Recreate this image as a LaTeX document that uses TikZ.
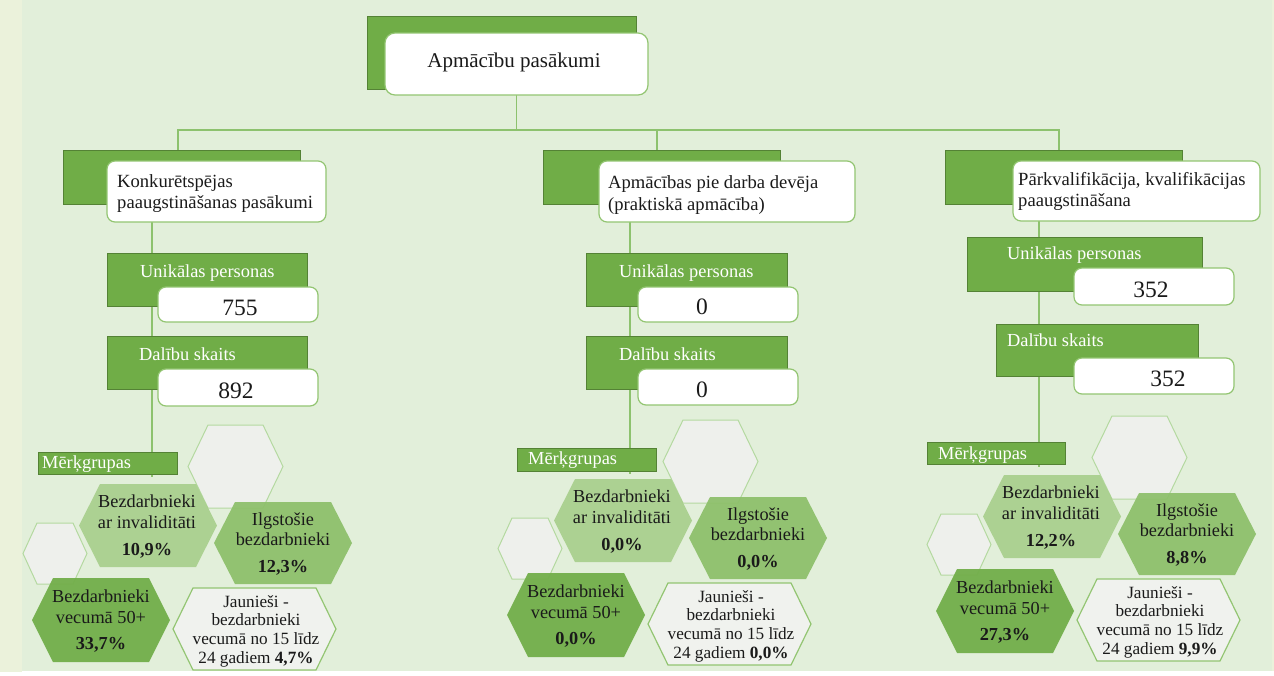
\documentclass[tikz,border=0pt]{standalone}
\usepackage{fontspec}
\setmainfont{Liberation Serif}
\newfontfamily\tnr{Liberation Serif}
\pgfdeclarelayer{back}
\pgfdeclarelayer{bg}
\pgfsetlayers{back,bg,main}
\definecolor{bgc}{HTML}{E2EFDA}
\definecolor{strip}{HTML}{EBF2DB}
\definecolor{gfill}{HTML}{70AD47}
\definecolor{gdark}{HTML}{548235}
\definecolor{wline}{HTML}{93C572}
\definecolor{cline}{HTML}{8DC26E}
\definecolor{hexa}{HTML}{A8CF8C}
\definecolor{hexb}{HTML}{8CBF69}
\definecolor{hexc}{HTML}{72AE4A}
\definecolor{hexl}{HTML}{F0F2EE}
\definecolor{hexe}{HTML}{EEF0EC}
\definecolor{hexeline}{HTML}{B4D9A0}
\definecolor{txt}{HTML}{1A1A1A}
\tikzset{
  gbox/.style={draw=gdark, fill=gfill, line width=0.8pt, inner sep=0pt, outer sep=0pt},
  wbox/.style={draw=wline, fill=white, rounded corners=8pt, line width=1.2pt, inner sep=0pt, outer sep=0pt},
  conn/.style={draw=cline, line width=1.2pt},
  ttl/.style={font=\tnr\fontsize{21}{24}\selectfont, text=txt, anchor=base, inner sep=0pt},
  hd/.style={font=\tnr\fontsize{18.6}{22}\selectfont, text=txt, anchor=base west, inner sep=0pt},
  lbl/.style={font=\tnr\fontsize{18.4}{22}\selectfont, text=white, anchor=base west, inner sep=0pt},
  num/.style={font=\tnr\fontsize{23.5}{26}\selectfont, text=txt, anchor=base, inner sep=0pt},
  htxt/.style={font=\tnr\fontsize{18.3}{20}\selectfont, text=txt, anchor=base, inner sep=0pt},
  jtxt/.style={font=\tnr\fontsize{17.2}{19}\selectfont, text=txt, anchor=base, inner sep=0pt},
  ehex/.style={fill=hexe, draw=hexeline, line width=1pt},
  hexA/.style={fill=hexa, fill opacity=0.92, draw=none},
  hexB/.style={fill=hexb, fill opacity=0.92, draw=none},
  hexC/.style={fill=hexc, fill opacity=0.95, draw=none},
  hexD/.style={fill=hexl, draw=wline, line width=1.2pt},
}
\newcommand\rbx[6]{\node[#1, minimum width={(#5-#3)*1pt}, minimum height={(#6-#4)*1pt}] (#2) at ({(#3+#5)/2},{(#4+#6)/2}) {};}
\newcommand\hexa[7]{%
  \path[#1] (#3,{(#4+#6)/2}) -- ({#3+#7},#4) -- ({#5-#7},#4) -- (#5,{(#4+#6)/2}) -- ({#5-#7},#6) -- ({#3+#7},#6) -- cycle;
  \coordinate (#2) at ({(#3+#5)/2},{(#4+#6)/2});}
\newcommand\hexgroup[6]{%
  \begin{scope}[shift={#2}]
    \hexa{ehex}{ea#1}{188}{425}{283}{508}{20}
    \hexa{ehex}{eb#1}{23}{523}{87}{584}{14}
    \hexa{hexA}{ha#1}{79}{484}{217}{567}{21}
    \hexa{hexB}{hb#1}{214}{502}{352}{584}{21}
    \hexa{hexC}{hc#1}{32}{578}{170}{662}{21}
    \hexa{hexD}{hd#1}{173}{588}{336}{670}{20}
    \node[htxt] (ta1#1) at (147,507) {Bezdarbnieki};
    \node[htxt] (ta2#1) at (147,528) {ar invaliditāti};
    \node[htxt] (ta3#1) at (147,555) {\bfseries #3};
    \node[htxt] (tb1#1) at (283,525) {Ilgstošie};
    \node[htxt] (tb2#1) at (283,545) {bezdarbnieki};
    \node[htxt] (tb3#1) at (283,572) {\bfseries #4};
    \node[htxt] (tc1#1) at (101,602) {Bezdarbnieki};
    \node[htxt] (tc2#1) at (101,623) {vecumā 50+};
    \node[htxt] (tc3#1) at (101,649) {\bfseries #5};
    \node[jtxt] (td1#1) at (256,607) {Jaunieši -};
    \node[jtxt] (td2#1) at (256,625) {bezdarbnieki};
    \node[jtxt] (td3#1) at (256,644) {vecumā no 15 līdz};
    \node[jtxt] (td4#1) at (256,663) {24 gadiem \textbf{#6}};
  \end{scope}}
\begin{document}
\begin{tikzpicture}[x=1pt,y=-1pt]
\begin{pgfonlayer}{back}
  \fill[white] (0,0) rectangle (1274,675);
  \fill[strip] (0,0) rectangle (22,672);
  \fill[bgc] (22,0) rectangle (1272,671);
  \fill[strip] (1272,0) rectangle (1274,671);
\end{pgfonlayer}
\useasboundingbox (0,0) rectangle (1274,675);

% title
\rbx{gbox}{tg}{367}{16}{636}{89}
\rbx{wbox, rounded corners=10pt}{tw}{385}{33}{648}{95}
\node[ttl] (tt) at (514,67) {Apmācību pasākumi};

% column headings
\rbx{gbox}{g1}{63}{150}{300}{204}
\rbx{wbox}{w1}{107}{161}{326}{222}
\node[hd] (h1a) at (117,187) {Konkurētspējas};
\node[hd] (h1b) at (117,208) {paaugstināšanas pasākumi};

\rbx{gbox}{g2}{543}{150}{780}{204}
\rbx{wbox}{w2}{599}{161}{855}{222}
\node[hd] (h2a) at (608,188) {Apmācības pie darba devēja};
\node[hd] (h2b) at (608,210) {(praktiskā apmācība)};

\rbx{gbox}{g3}{945}{150}{1182}{204}
\rbx{wbox}{w3}{1013}{161}{1260}{221}
\node[hd] (h3a) at (1018,185) {Pārkvalifikācija, kvalifikācijas};
\node[hd] (h3b) at (1018,206) {paaugstināšana};

% column 1 figures
\rbx{gbox}{u1}{107}{253}{307}{306}
\rbx{wbox}{uw1}{158}{287}{318}{322}
\node[lbl] (ul1) at (140,277) {Unikālas personas};
\node[num] (un1) at (240,315) {755};
\rbx{gbox}{d1}{107}{336}{307}{389}
\rbx{wbox}{dw1}{158}{369}{318}{406}
\node[lbl] (dl1) at (139,360) {Dalību skaits};
\node[num] (dn1) at (236,398) {892};

% column 2 figures
\rbx{gbox}{u2}{586}{253}{787}{306}
\rbx{wbox}{uw2}{638}{287}{798}{322}
\node[lbl] (ul2) at (619,277) {Unikālas personas};
\node[num] (un2) at (702,314) {0};
\rbx{gbox}{d2}{586}{336}{787}{389}
\rbx{wbox}{dw2}{638}{369}{798}{405}
\node[lbl] (dl2) at (619,360) {Dalību skaits};
\node[num] (dn2) at (702,397) {0};

% column 3 figures
\rbx{gbox}{u3}{967}{237}{1202}{291}
\rbx{wbox}{uw3}{1074}{268}{1234}{305}
\node[lbl] (ul3) at (1007,259) {Unikālas personas};
\node[num] (un3) at (1151,297) {352};
\rbx{gbox}{d3}{996}{324}{1198}{376}
\rbx{wbox}{dw3}{1074}{358}{1234}{394}
\node[lbl] (dl3) at (1007,346) {Dalību skaits};
\node[num] (dn3) at (1168,386) {352};

% target groups
\rbx{gbox}{m1}{38}{452}{177}{474}
\node[lbl] (ml1) at (42,468) {Mērķgrupas};
\rbx{gbox}{m2}{517}{448}{656}{471}
\node[lbl] (ml2) at (528,464) {Mērķgrupas};
\rbx{gbox}{m3}{927}{442}{1065}{464}
\node[lbl] (ml3) at (938,459) {Mērķgrupas};

\hexgroup{x}{(0,0)}{10,9\%}{12,3\%}{33,7\%}{4,7\%}
\hexgroup{y}{(475,-5)}{0,0\%}{0,0\%}{0,0\%}{0,0\%}
\hexgroup{z}{(904,-9)}{12,2\%}{8,8\%}{27,3\%}{9,9\%}

% connectors
\coordinate (a1) at (178,130);
\coordinate (a2) at (657,130);
\coordinate (a3) at (1059,130);
\coordinate (c1) at (152,0);
\coordinate (c2) at (630,0);
\coordinate (c3) at (1039,0);
\begin{pgfonlayer}{bg}
  \draw[conn] (tw.south) -- (tw.south |- a1);
  \draw[conn] (a1 |- g1.north) -- (a1) -- (a3) -- (a3 |- g3.north);
  \draw[conn] (a2) -- (a2 |- g2.north);
  \draw[conn] (w1.south -| c1) -- ([yshift=-3pt]m1.south -| c1);
  \draw[conn] (w2.south -| c2) -- ([yshift=-3pt]m2.south -| c2);
  \draw[conn] (w3.south -| c3) -- ([yshift=-3pt]m3.south -| c3);
\end{pgfonlayer}
\end{tikzpicture}
\end{document}
